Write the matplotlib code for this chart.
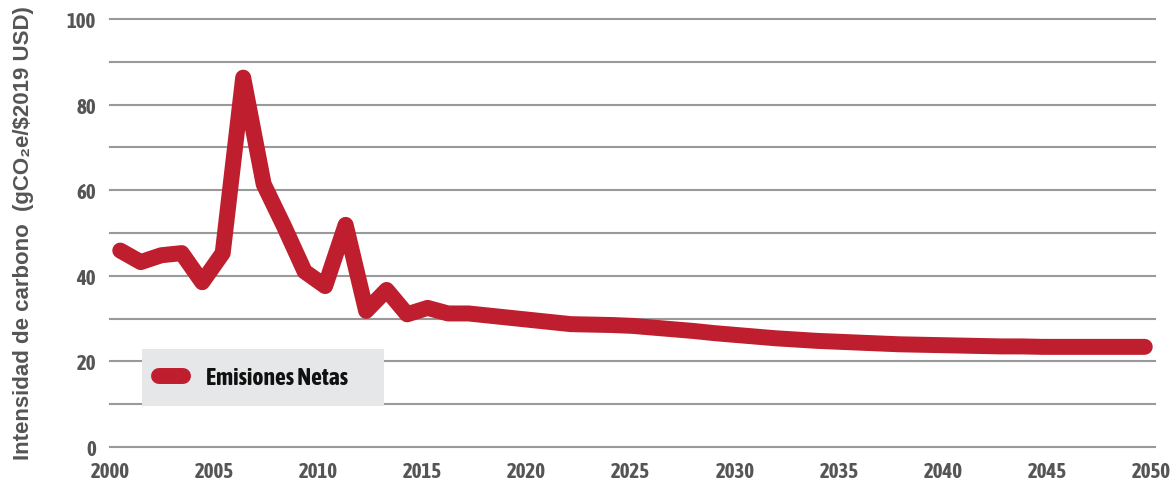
import matplotlib
matplotlib.use("Agg")
import matplotlib.pyplot as plt
from matplotlib import font_manager

years = list(range(2000, 2051))
emisiones_netas = [
    45.9, 43.2, 44.8, 45.3, 38.5, 45.3, 86.3, 61.4, 51.5, 41.0,
    37.6, 51.9, 31.8, 36.7, 31.0, 32.5, 31.2, 31.2, 30.7, 30.2,
    29.7, 29.2, 28.7, 28.6, 28.5, 28.3, 27.9, 27.5, 27.1, 26.6,
    26.2, 25.8, 25.4, 25.1, 24.8, 24.6, 24.4, 24.2, 24.0, 23.9,
    23.8, 23.7, 23.6, 23.5, 23.5, 23.4, 23.4, 23.4, 23.4, 23.4,
    23.4,
]
x_tick_labels = [str(y) for y in range(2000, 2051, 5)]
y_ticks_major = [0, 20, 40, 60, 80, 100]
y_grid = list(range(0, 101, 10))
series_label = "Emisiones Netas"
y_label = "Intensidad de carbono  (gCO\u2082e/$2019 USD)"

# pick a condensed bold face if one is installed
cond = None
for f in font_manager.fontManager.ttflist:
    st = str(f.stretch).lower()
    nm = f.name.lower()
    fn = f.fname.lower()
    is_cond = ("condensed" in st) or ("narrow" in nm) or ("condensed" in nm) or ("condensed" in fn) or ("narrow" in fn)
    if is_cond and ("bold" in fn or str(f.weight) in ("bold", "700", "600")):
        cond = f
        if "dejavu" in nm:
            continue
        break

if cond is not None:
    fam = [cond.name, "DejaVu Sans"]
    fstretch = cond.stretch if cond.stretch != "normal" else "condensed"
    fs_tick, fs_leg = 15, 17
else:
    fam = ["Liberation Sans", "DejaVu Sans"]
    fstretch = "normal"
    fs_tick, fs_leg = 13, 14.2
plt.rcParams["font.family"] = fam

RED = "#BE1E2D"
GRAY_TXT = "#555555"

fig = plt.figure(figsize=(11.76, 5.02), dpi=100)
ax = fig.add_axes([110 / 1176, 1 - 448 / 502, 1045 / 1176, 428 / 502])

idx = list(range(len(years)))
ax.plot(idx, emisiones_netas, color=RED, lw=11.5, solid_capstyle="round",
        solid_joinstyle="round", label=series_label, clip_on=False, zorder=3)
ax.set_xlim(-0.5, len(years) - 0.5)
ax.set_ylim(0, 100)

for g in y_grid:
    ax.axhline(g, color="#999999", lw=1.5, zorder=1, clip_on=False)

for s in ax.spines.values():
    s.set_visible(False)
ax.set_xticks([])
ax.set_yticks(y_ticks_major)
ax.set_yticklabels([str(v) for v in y_ticks_major], fontsize=fs_tick,
                   fontweight="bold", color=GRAY_TXT, fontstretch=fstretch)
ax.tick_params(axis="y", length=0, pad=10)

ax2 = ax.twiny()
ax2.set_xlim(2000.19, 2050.17)
ax2.xaxis.set_ticks_position("bottom")
ax2.xaxis.set_label_position("bottom")
ax2.set_xticks([int(t) for t in x_tick_labels])
ax2.set_xticklabels(x_tick_labels, fontsize=fs_tick, fontweight="bold", color=GRAY_TXT,
                    fontstretch=fstretch)
ax2.tick_params(axis="x", length=0, pad=10)
for s in ax2.spines.values():
    s.set_visible(False)

fig.text(24 / 1176, 1 - 233 / 502, y_label, rotation=90, ha="center", va="center",
         fontsize=16, fontweight="bold", color=GRAY_TXT,
         family=["Liberation Sans", "DejaVu Sans"])

leg = ax.legend(loc="upper left", bbox_to_anchor=(142 / 1176, 1 - 411 / 502, 242 / 1176, 61 / 502),
                bbox_transform=fig.transFigure, borderaxespad=0, frameon=True, mode="expand",
                fancybox=False, handlelength=1.0, handletextpad=1.0,
                borderpad=0.72,
                prop=font_manager.FontProperties(family=fam, size=fs_leg, weight="bold",
                                                 stretch=fstretch))
frame = leg.get_frame()
frame.set_facecolor("#E6E7E8")
frame.set_edgecolor("none")
frame.set_alpha(1)
for t in leg.get_texts():
    t.set_color("#111111")

fig.savefig("out.png", dpi=100)
